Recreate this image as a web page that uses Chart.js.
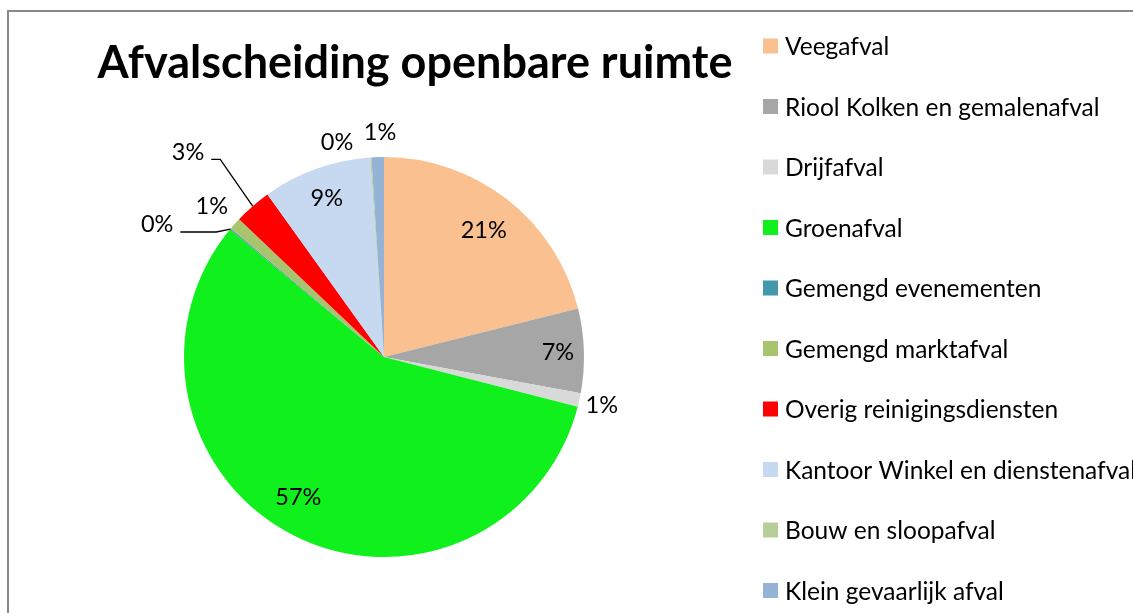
<!DOCTYPE html>
<html>
<head>
<meta charset="utf-8">
<script src="https://cdn.jsdelivr.net/npm/chart.js@4"></script>
<style>
  html, body { margin: 0; padding: 0; background: #fff; overflow: hidden; }
</style>
</head>
<body>
<canvas id="myChart" width="1133" height="613"></canvas>
<script>
const titleText = 'Afvalscheiding openbare ruimte';

const categories = [
    'Veegafval',
    'Riool Kolken en gemalenafval',
    'Drijfafval',
    'Groenafval',
    'Gemengd evenementen',
    'Gemengd marktafval',
    'Overig reinigingsdiensten',
    'Kantoor Winkel en dienstenafval',
    'Bouw en sloopafval',
    'Klein gevaarlijk afval'
];

// share of total (percent)
const shares = [21.1, 6.8, 1.1, 57.0, 0.1, 1.0, 3.0, 8.8, 0.1, 1.0];

const sliceColors = ['#FAC090', '#A6A6A6', '#D9D9D9', '#10F01C', '#4498AE',
                     '#A9C46E', '#FF0000', '#C6D9F1', '#B8CE98', '#95B3D7'];

// label placement: distance as factor of radius, angle shift in degrees, leader line length
const labelRadius = [0.81, 0.87, 1.115, 0.82, 1.315, 1.145, 1.42, 0.845, 1.105, 1.13];
const labelShift  = [0, 0, 0, 4.5, -9.4, -0.5, -2.6, 0, -8.5, 0.8];
const leaderLen   = [0, 0, 0, 0, 36, 0, 9, 0, 0, 0];

const labelFont = '23.5px Lato';
const legendFont = '24.5px Lato';

// frame, title, legend and percentage labels
const decor = {
    id: 'decor',
    beforeDraw(chart) {
        const ctx = chart.ctx;
        ctx.save();
        ctx.fillStyle = '#fff';
        ctx.fillRect(0, 0, chart.width, chart.height);
        ctx.strokeStyle = '#898989';
        ctx.lineWidth = 2;
        ctx.strokeRect(8, 11, chart.width + 20, chart.height + 20);
        ctx.restore();
    },
    afterDatasetsDraw(chart) {
        const ctx = chart.ctx;
        const meta = chart.getDatasetMeta(0);
        const total = shares.reduce((a, b) => a + b, 0);
        ctx.save();
        ctx.font = labelFont;
        ctx.fillStyle = '#000';
        ctx.textAlign = 'center';
        ctx.textBaseline = 'alphabetic';
        meta.data.forEach((arc, i) => {
            const p = arc.getProps(['x', 'y', 'startAngle', 'endAngle', 'outerRadius'], true);
            const mid = (p.startAngle + p.endAngle) / 2;
            const a = mid + labelShift[i] * Math.PI / 180;
            const r = p.outerRadius * labelRadius[i];
            const cx = p.x + Math.cos(a) * r;
            const cy = p.y + Math.sin(a) * r;
            const txt = Math.round(shares[i] / total * 100) + '%';
            ctx.fillText(txt, cx, cy + 8.5);
            if (leaderLen[i] > 0) {
                const w = ctx.measureText(txt).width;
                const sx = cx + w / 2 + 7;
                const sy = cy + 8;
                ctx.beginPath();
                ctx.moveTo(sx, sy);
                ctx.lineTo(sx + leaderLen[i], sy);
                ctx.lineTo(p.x + Math.cos(mid) * p.outerRadius, p.y + Math.sin(mid) * p.outerRadius);
                ctx.strokeStyle = '#000';
                ctx.lineWidth = 1.3;
                ctx.stroke();
            }
        });
        ctx.restore();
    },
    afterDraw(chart) {
        const ctx = chart.ctx;
        ctx.save();
        // title
        ctx.font = 'bold 45px Lato';
        ctx.fillStyle = '#000';
        ctx.textAlign = 'center';
        ctx.textBaseline = 'alphabetic';
        ctx.fillText(titleText, 415, 78);
        // legend
        ctx.font = legendFont;
        ctx.textAlign = 'left';
        categories.forEach((name, i) => {
            const rowY = 46 + i * 60.5;
            ctx.fillStyle = sliceColors[i];
            ctx.fillRect(763, rowY - 7.5, 15, 15);
            ctx.fillStyle = '#000';
            ctx.fillText(name, 785, rowY + 9);
        });
        ctx.restore();
    }
};

function drawChart() {
    const ctx = document.getElementById('myChart').getContext('2d');
    new Chart(ctx, {
        type: 'pie',
        data: {
            labels: categories,
            datasets: [{
                data: shares,
                backgroundColor: sliceColors,
                borderWidth: 0
            }]
        },
        options: {
            responsive: false,
            animation: false,
            layout: {
                padding: { left: 184, right: 549, top: 157, bottom: 56 }
            },
            plugins: {
                legend: { display: false },
                title: { display: false },
                tooltip: { enabled: false }
            }
        },
        plugins: [decor]
    });
}

Promise.all([
    document.fonts.load('23.5px Lato'),
    document.fonts.load('bold 45px Lato')
]).then(drawChart, drawChart);
</script>
</body>
</html>
